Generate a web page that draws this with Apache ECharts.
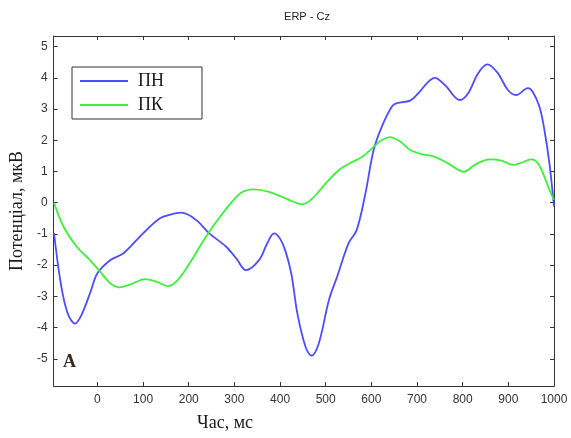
<!DOCTYPE html>
<html>
<head>
<meta charset="utf-8">
<script src="https://cdn.jsdelivr.net/npm/echarts@6/dist/echarts.min.js"></script>
<style>html,body{margin:0;padding:0;background:#fff}#c{width:571px;height:438px}</style>
</head>
<body>
<div id="c"></div>
<script>
// ---- data ----
var chartTitle = 'ERP - Cz';
var xAxisTitle = 'Час, мс';
var yAxisTitle = 'Потенціал, мкВ';
var seriesNames = ['ПН', 'ПК'];
var xTicks = [0, 100, 200, 300, 400, 500, 600, 700, 800, 900, 1000];
var yTicks = [-5, -4, -3, -2, -1, 0, 1, 2, 3, 4, 5];

var pnTimes  = [-95, -80, -65, -49, -35, -15, 0, 28, 57, 100, 137, 160, 184, 216, 245, 282, 305, 325, 354, 372, 387, 400, 412, 425, 438, 456, 469, 485, 507, 525, 550, 568, 587, 605, 623, 645, 656, 685, 703, 725, 739, 761, 794, 812, 834, 854, 877, 899, 917, 943, 953, 968, 979, 990, 1000];
var pnValues = [-0.97, -2.6, -3.55, -3.87, -3.6, -2.85, -2.26, -1.84, -1.62, -0.98, -0.5, -0.38, -0.32, -0.55, -0.98, -1.41, -1.8, -2.16, -1.84, -1.3, -0.98, -1.15, -1.55, -2.3, -3.55, -4.62, -4.9, -4.5, -3.12, -2.37, -1.3, -0.87, 0.3, 1.69, 2.44, 3.08, 3.19, 3.27, 3.51, 3.88, 4.0, 3.77, 3.29, 3.51, 4.15, 4.43, 4.15, 3.61, 3.45, 3.67, 3.56, 3.08, 2.33, 1.26, -0.13];

var pkTimes  = [-95, -74, -45, -16, 9, 28, 49, 78, 104, 129, 155, 176, 202, 224, 245, 267, 296, 318, 343, 376, 412, 449, 471, 500, 529, 550, 580, 605, 623, 641, 663, 685, 710, 739, 768, 803, 826, 859, 885, 910, 928, 950, 965, 979, 990, 1000];
var pkValues = [0.0, -0.77, -1.41, -1.84, -2.26, -2.58, -2.71, -2.58, -2.45, -2.53, -2.67, -2.48, -1.94, -1.41, -0.93, -0.48, 0.05, 0.35, 0.43, 0.35, 0.14, -0.05, 0.14, 0.62, 1.05, 1.24, 1.47, 1.79, 2.01, 2.10, 1.96, 1.69, 1.56, 1.47, 1.26, 0.99, 1.21, 1.39, 1.35, 1.21, 1.28, 1.39, 1.26, 0.83, 0.41, 0.09];

function pairs(xs, ys) { return xs.map(function (x, i) { return [x, ys[i]]; }); }

var X_MIN = -96, X_MAX = 1000, Y_MIN = -5.87, Y_MAX = 5.34;
var axisColor = '#333333';
var labelFont = { color: '#333333', fontSize: 12, fontFamily: 'Liberation Sans, Arial, sans-serif' };
function plain(v) { return String(v); }

function xAx(pos, showLabels) {
  return {
    type: 'value', position: pos, min: X_MIN, max: X_MAX,
    axisLine: { show: true, onZero: false, lineStyle: { color: axisColor, width: 1 } },
    axisTick: { show: true, inside: true, length: 4, customValues: xTicks, lineStyle: { color: axisColor } },
    axisLabel: Object.assign({ show: showLabels, margin: 8, customValues: xTicks, formatter: plain }, labelFont),
    splitLine: { show: false }
  };
}
function yAx(pos, showLabels) {
  var a = {
    type: 'value', position: pos, min: Y_MIN, max: Y_MAX,
    axisLine: { show: true, onZero: false, lineStyle: { color: axisColor, width: 1 } },
    axisTick: { show: true, inside: true, length: 4, customValues: yTicks, lineStyle: { color: axisColor } },
    axisLabel: Object.assign({ show: showLabels, margin: 6, customValues: yTicks, formatter: plain }, labelFont),
    splitLine: { show: false }
  };
  if (showLabels) {
    a.name = yAxisTitle;
    a.nameLocation = 'middle';
    a.nameGap = 24;
    a.nameTextStyle = { color: '#1a1a1a', fontSize: 18, fontFamily: 'Liberation Serif, Times New Roman, serif' };
  }
  return a;
}

var chart = echarts.init(document.getElementById('c'), null, { renderer: 'canvas' });
chart.setOption({
  animation: false,
  backgroundColor: '#ffffff',
  title: {
    text: chartTitle, left: 302, top: 6, textAlign: 'center',
    textStyle: { color: '#222222', fontSize: 11, fontWeight: 'normal', fontFamily: 'Liberation Sans, Arial, sans-serif' }
  },
  grid: { left: 50, top: 36, right: 17, bottom: 52, containLabel: false },
  legend: {
    orient: 'vertical', left: 72, top: 67,
    backgroundColor: '#ffffff', borderColor: '#333333', borderWidth: 1,
    padding: [5, 38, 5, 8], itemWidth: 48, itemHeight: 2, itemGap: 6, icon: 'rect',
    textStyle: { color: '#1a1a1a', fontSize: 18, fontFamily: 'Liberation Serif, Times New Roman, serif', padding: [0, 0, 0, 5] },
    data: seriesNames
  },
  xAxis: [xAx('bottom', true), xAx('top', false)],
  yAxis: [yAx('left', true), yAx('right', false)],
  graphic: [
    { type: 'text', left: 197, top: 414, style: { text: xAxisTitle, fill: '#1a1a1a', font: '18px "Liberation Serif", serif' } },
    { type: 'text', left: 63, top: 353, style: { text: 'A', fill: '#3a2a1a', font: 'bold 18px "Liberation Serif", serif' } }
  ],
  series: [
    { name: seriesNames[0], type: 'line', xAxisIndex: 0, yAxisIndex: 0, data: pairs(pnTimes, pnValues),
      smooth: 0.35, symbol: 'none', lineStyle: { color: '#4d4dff', width: 1.8 }, itemStyle: { color: '#4d4dff' } },
    { name: seriesNames[1], type: 'line', xAxisIndex: 0, yAxisIndex: 0, data: pairs(pkTimes, pkValues),
      smooth: 0.35, symbol: 'none', lineStyle: { color: '#3cf03c', width: 1.8 }, itemStyle: { color: '#3cf03c' } }
  ]
});
</script>
</body>
</html>
